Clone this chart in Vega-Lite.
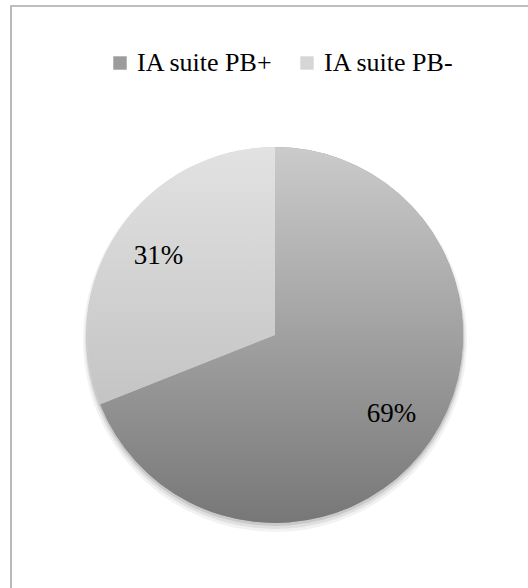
{
  "$schema": "https://vega.github.io/schema/vega-lite/v6.json",
  "autosize": {"type": "none"},
  "width": 528,
  "height": 658,
  "padding": {"left": 11, "top": 6, "right": -11, "bottom": -76},
  "background": "#ffffff",
  "view": {"stroke": "#a9a9a9", "strokeWidth": 1.6},
  "config": {
    "view": {"stroke": "#a9a9a9", "strokeWidth": 1.6},
    "font": "Liberation Serif"
  },
  "data": {
    "values": [
      {"categorie": "IA suite PB+", "part": 69, "etiquette": "69%"},
      {"categorie": "IA suite PB-", "part": 31, "etiquette": "31%"}
    ]
  },
  "encoding": {
    "theta": {"field": "part", "type": "quantitative", "stack": true},
    "order": {"field": "categorie", "type": "nominal", "sort": "ascending"}
  },
  "layer": [
    {
      "mark": {"type": "arc", "outerRadius": 192, "fill": "#000000", "opacity": 0.05, "yOffset": 5}
    },
    {
      "mark": {"type": "arc", "outerRadius": 190, "fill": "#000000", "opacity": 0.07, "yOffset": 4}
    },
    {
      "mark": {"type": "arc", "outerRadius": 189, "fill": "#000000", "opacity": 0.1, "yOffset": 2}
    },
    {
      "mark": {"type": "arc", "outerRadius": 188},
      "encoding": {
        "color": {
          "field": "categorie",
          "type": "nominal",
          "scale": {
            "domain": ["IA suite PB+", "IA suite PB-"],
            "range": ["#9c9c9c", "#d6d6d6"]
          },
          "legend": {
            "orient": "none",
            "legendX": 96,
            "legendY": 44,
            "direction": "horizontal",
            "title": null,
            "symbolType": "square",
            "symbolSize": 180,
            "symbolStrokeWidth": 0,
            "symbolOpacity": 1,
            "labelFont": "Liberation Serif",
            "labelFontSize": 26,
            "labelColor": "#000000",
            "labelOffset": 4,
            "columnPadding": 20,
            "labelLimit": 300
          }
        }
      }
    },
    {
      "mark": {"type": "arc", "outerRadius": 188},
      "encoding": {
        "fill": {
          "condition": {
            "test": "datum.categorie === 'IA suite PB+'",
            "value": {"gradient": "linear", "x1": 0, "y1": 0, "x2": 0, "y2": 1,
                      "stops": [{"offset": 0, "color": "#cbcbcb"}, {"offset": 1, "color": "#777777"}]}
          },
          "value": {"gradient": "linear", "x1": 0, "y1": 0, "x2": 0, "y2": 1,
                    "stops": [{"offset": 0, "color": "#e2e2e2"}, {"offset": 1, "color": "#c4c4c4"}]}
        }
      }
    },
    {
      "mark": {"type": "text", "radius": 141, "font": "Liberation Serif", "fontSize": 27, "color": "#000000"},
      "encoding": {
        "text": {"field": "etiquette", "type": "nominal"}
      }
    }
  ]
}
